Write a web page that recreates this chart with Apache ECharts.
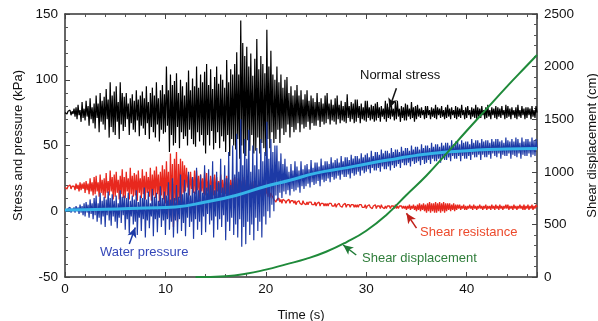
<!DOCTYPE html>
<html>
<head>
<meta charset="utf-8">
<script src="https://cdn.jsdelivr.net/npm/echarts@6/dist/echarts.min.js"></script>
<style>html,body{margin:0;padding:0;background:#fff}#c{width:598px;height:321px}</style>
</head>
<body>
<div id="c"></div>
<script>
// sampling step of the recorded signals (s)
const sampleStep = 0.1;

// Normal stress (kPa), one row per second, 10 samples each
const normalStress = [
75,76,74,76,75,77,73,76,74,78,
72,79,70,81,73,77,68,83,71,78,
69,84,72,80,65,86,70,79,67,82,
63,88,71,82,60,90,68,84,66,87,
62,93,70,85,56,98,64,88,60,91,
58,95,68,83,55,98,66,90,61,87,
64,90,70,82,58,86,67,89,62,84,
60,92,69,85,57,88,65,91,63,86,
58,95,67,83,55,90,64,94,60,88,
56,98,66,86,53,92,62,96,59,89,
60,110,65,92,45,104,58,96,50,99,
52,105,64,90,48,100,60,95,55,88,
57,98,50,107,62,92,55,101,51,95,
49,110,60,94,53,104,58,98,50,106,
44,112,58,96,50,108,61,93,47,102,
52,110,60,97,48,104,57,100,53,94,
45,115,58,98,42,108,55,104,50,112,
47,121,55,104,40,145,50,128,44,118,
42,125,54,110,46,120,58,103,44,116,
46,131,56,108,44,118,52,112,48,105,
42,138,55,110,48,122,60,104,52,100,
55,110,62,98,52,104,63,94,58,100,
60,102,66,90,56,95,64,88,60,92,
62,96,67,88,60,92,66,85,63,89,
64,92,68,84,62,88,67,86,65,83,
65,90,69,83,64,86,68,82,66,88,
67,90,70,82,66,85,69,81,68,86,
66,88,70,81,67,84,69,80,68,83,
67,89,71,80,68,83,70,82,67,85,
68,85,71,80,67,82,70,79,69,84,
68,84,71,79,69,81,70,80,68,82,
69,83,71,79,68,80,72,78,70,84,
68,82,71,79,70,81,72,78,69,83,
70,84,72,78,68,80,71,79,69,82,
69,81,72,78,70,83,71,79,68,80,
70,81,72,78,71,79,73,77,70,80,
71,80,73,77,70,79,72,78,71,81,
70,79,73,78,71,80,72,77,70,79,
71,81,72,78,70,79,73,77,71,80,
70,79,72,78,71,81,73,77,70,79,
71,80,73,77,70,79,72,78,71,81,
70,79,72,78,71,80,73,77,70,79,
71,81,72,77,70,79,73,78,71,80,
70,79,72,78,71,80,73,77,70,81,
71,80,72,78,70,79,73,77,71,79,
70,81,72,77,71,80,73,78,70,79,
71,79,73,78,70,80,72,77,71,80,
75
];

// Water pressure (kPa)
const waterPressure = [
1,2,0,2,1,3,-1,2,0,3,
-1,4,0,3,-2,5,-1,4,-3,6,
-4,7,-1,5,-5,9,-2,6,-6,10,
-3,12,-8,6,-5,14,-10,8,-4,11,
-12,9,-3,15,-7,10,-11,13,-4,8,
-8,12,-13,6,-5,16,-9,11,-3,12,
-14,10,-6,14,-17,8,-4,12,-10,9,
-8,16,-18,7,-5,12,-15,10,-6,18,
-20,9,-7,15,-13,6,-4,17,-19,11,
-6,14,-16,8,-5,19,-12,10,-7,15,
-18,12,-6,22,-14,9,-8,25,-20,10,
-7,20,-17,11,-6,28,-15,13,-9,24,
-19,14,-5,30,-12,12,-8,26,-21,15,
-6,33,-14,16,-8,28,-18,14,-4,35,
-16,18,-2,32,-10,20,-7,38,-20,16,
-4,30,-14,22,-6,40,-12,18,-3,35,
-22,25,-8,45,-15,20,-5,50,-18,28,
-10,59,-20,30,-6,70,-27,35,-12,55,
-25,40,-8,62,-18,30,-10,50,-22,35,
-5,48,-15,32,-8,55,-20,38,-4,45,
-10,68,0,40,-5,55,5,45,0,50,
12,50,8,38,14,44,10,36,15,40,
13,34,16,30,12,36,17,31,15,38,
16,34,18,31,14,38,19,32,17,35,
19,36,21,32,18,39,22,33,20,37,
21,37,23,34,19,40,24,35,22,38,
23,38,25,36,22,41,26,37,24,39,
25,40,27,37,24,42,28,38,26,41,
26,41,28,39,25,43,29,40,27,42,
28,42,30,40,27,44,31,41,29,43,
30,44,32,41,29,46,33,42,31,45,
31,45,33,43,30,47,34,44,32,46,
32,46,34,44,31,48,35,45,33,47,
34,47,36,45,33,49,37,46,35,48,
35,48,37,46,34,50,38,47,36,49,
37,49,38,47,35,51,39,48,36,50,
37,50,39,48,36,52,40,49,38,51,
38,51,40,49,37,52,41,50,39,52,
39,52,41,50,38,54,42,51,40,53,
40,53,42,51,38,54,42,52,40,53,
40,53,42,51,39,55,43,52,41,54,
41,54,43,52,39,55,43,53,41,54,
41,54,43,52,40,55,44,53,42,55,
41,55,44,53,40,54,43,52,42,56,
42,54,44,53,40,55,43,53,42,56,
41,55,44,52,40,56,43,53,42,55,
42,55,44,53,41,56,43,54,42,55,
48
];

// Shear resistance (kPa)
const shearResistance = [
18,19,17,19,18,20,17,19,18,19,
16,21,17,20,15,22,16,21,17,22,
14,23,16,21,13,25,15,22,12,26,
13,27,15,22,11,28,14,24,12,25,
10,29,14,23,12,31,15,26,9,28,
11,30,14,24,9,27,13,32,10,26,
10,30,15,25,9,33,13,27,11,29,
12,28,8,31,14,25,10,32,13,27,
9,30,14,26,11,33,8,28,12,31,
10,34,13,28,7,30,12,35,9,32,
6,38,12,30,-5,44,4,36,-12,40,
8,45,-8,36,10,40,5,38,14,35,
15,33,18,28,12,30,17,26,14,31,
13,31,16,27,10,28,15,25,13,30,
12,29,15,24,10,27,14,26,12,28,
12,26,15,23,11,28,14,24,12,25,
13,27,15,22,10,24,14,25,12,26,
11,25,14,22,13,23,12,26,14,24,
12,24,15,21,10,22,13,23,14,22,
12,20,14,22,11,19,13,21,12,18,
13,18,11,16,10,14,12,11,9,10,
7,9,8,10,7,9,6,9,8,8,
6,8,7,9,6,8,7,8,6,8,
5,7,6,8,6,7,5,8,6,7,
5,7,5,7,6,7,5,6,5,7,
4,6,5,7,4,6,5,6,4,6,
4,6,4,6,5,6,4,5,4,6,
3,5,4,6,4,5,3,5,4,6,
3,5,4,5,3,5,4,5,3,5,
3,5,3,5,4,5,3,4,3,5,
2,4,3,5,3,4,2,4,3,5,
2,4,3,4,2,5,3,4,2,4,
2,4,3,4,2,4,3,4,2,5,
2,4,2,4,3,4,2,4,2,4,
1,4,2,5,1,4,2,5,1,4,
0,5,1,6,0,5,1,6,0,5,
-1,6,0,7,-1,6,0,6,-1,7,
-1,6,0,7,-1,6,0,7,-1,6,
0,6,1,6,0,5,1,6,0,5,
1,5,2,5,1,4,2,5,1,4,
1,4,2,5,2,4,1,5,2,4,
1,4,2,5,2,4,1,4,2,5,
1,4,2,4,1,5,2,4,1,5,
2,4,1,5,2,4,1,4,2,5,
2,5,1,4,2,4,1,5,2,4,
1,4,2,5,2,4,1,5,1,4,
2,5,1,4,2,5,1,4,2,5,
3
];

// Smoothed water pressure trend (kPa)
const trendTime = [0,4,8,11,14,17,20,22.4,25,28,30,33,35,38,41,44,47];
const trendValue = [1,1.5,2.5,3.3,7,12,19,23.6,29,33,36,40,42.5,45,46.5,47.3,47.7];

// Shear displacement (cm), right axis
const dispTime = [13,16,18,20,22,24,26,28,30,32,34,36,38,40,42,44,46,47];
const dispValue = [0,8,30,70,120,172,240,330,440,590,780,965,1175,1390,1600,1810,2010,2110];

// axis ticks
const xTicks = {min: 0, max: 47, interval: 10};
const yLeft = {min: -50, max: 150, interval: 50};
const yRight = {min: 0, max: 2500, interval: 500};

function pairs(vals) {
  return vals.map((v, i) => [+(i * sampleStep).toFixed(1), v]);
}
function zip(a, b) { return a.map((x, i) => [x, b[i]]); }

const FONT = '"Liberation Sans", Arial, sans-serif';
const axisLineStyle = {color: '#333', width: 1.5};
const tickFont = {fontSize: 13.5, color: '#111', fontFamily: FONT};
const nameFont = {fontSize: 13, color: '#111', fontFamily: FONT};

function arrow(x1, y1, x2, y2, color) {
  return [
    {coord: [x1, y1], symbol: 'none', lineStyle: {color: color, width: 1.5, type: 'solid'}},
    {coord: [x2, y2], symbol: 'arrow', symbolSize: [7, 10], itemStyle: {color: color}}
  ];
}
function commonAxis() {
  return {
    axisLine: {show: true, onZero: false, lineStyle: axisLineStyle},
    axisTick: {show: true, inside: true, length: 5, lineStyle: {color: '#444'}},
    minorTick: {show: true, splitNumber: 5, length: 3, lineStyle: {color: '#555'}},
    splitLine: {show: false}
  };
}

const chart = echarts.init(document.getElementById('c'), null, {renderer: 'canvas'});
chart.setOption({
  animation: false,
  backgroundColor: '#fff',
  textStyle: {fontFamily: FONT},
  grid: {left: 65, right: 61, top: 14, bottom: 44, containLabel: false, outerBoundsMode: 'none'},
  xAxis: [Object.assign(commonAxis(), {
    type: 'value', min: xTicks.min, max: xTicks.max, interval: xTicks.interval,
    name: 'Time (s)', nameLocation: 'middle', nameGap: 32, nameTextStyle: nameFont,
    axisLabel: Object.assign({margin: 5, showMaxLabel: false}, tickFont)
  }), Object.assign(commonAxis(), {
    type: 'value', position: 'top', min: xTicks.min, max: xTicks.max, interval: xTicks.interval,
    axisLabel: {show: false}
  })],
  yAxis: [Object.assign(commonAxis(), {
    type: 'value', min: yLeft.min, max: yLeft.max, interval: yLeft.interval,
    name: 'Stress and pressure (kPa)', nameLocation: 'middle', nameGap: 37, nameTextStyle: nameFont,
    axisLabel: Object.assign({margin: 7}, tickFont)
  }), Object.assign(commonAxis(), {
    type: 'value', position: 'right', min: yRight.min, max: yRight.max, interval: yRight.interval,
    name: 'Shear displacement (cm)', nameLocation: 'middle', nameGap: 49, nameRotate: 90, nameTextStyle: nameFont,
    axisLabel: Object.assign({margin: 7, formatter: v => String(v)}, tickFont)
  })],
  series: [{
    name: 'Shear resistance', type: 'line', xAxisIndex: 0, yAxisIndex: 0, showSymbol: false, z: 2,
    data: pairs(shearResistance), lineStyle: {color: '#e8281e', width: 1.3}
  }, {
    name: 'Normal stress', type: 'line', xAxisIndex: 0, yAxisIndex: 0, showSymbol: false, z: 3,
    data: pairs(normalStress), lineStyle: {color: '#000', width: 1.2}
  }, {
    name: 'Water pressure', type: 'line', xAxisIndex: 0, yAxisIndex: 0, showSymbol: false, z: 4,
    data: pairs(waterPressure), lineStyle: {color: '#1d3aa6', width: 1.2}
  }, {
    name: 'Trend', type: 'line', xAxisIndex: 0, yAxisIndex: 0, showSymbol: false, smooth: true, z: 5,
    data: zip(trendTime, trendValue), lineStyle: {color: '#36b3e8', width: 3}
  }, {
    name: 'Shear displacement', type: 'line', xAxisIndex: 0, yAxisIndex: 1, showSymbol: false, smooth: true, z: 6,
    data: zip(dispTime, dispValue), lineStyle: {color: '#1f8a3a', width: 2},
    markLine: {
      silent: true, animation: false, label: {show: false},
      data: [
        arrow(33.0, 1795, 32.3, 1605, '#111'),
        arrow(6.4, 313, 7.0, 470, '#1d3aa6'),
        arrow(35.0, 465, 34.0, 606, '#c0201a'),
        arrow(29.0, 209, 27.7, 304, '#1f7a36')
      ]
    }
  }],
  graphic: [
    {type: 'text', left: 360, top: 69, z: 100, style: {text: 'Normal stress', fill: '#111', font: '13px ' + FONT}},
    {type: 'text', left: 100, top: 246, z: 100, style: {text: 'Water pressure', fill: '#3447b8', font: '13px ' + FONT}},
    {type: 'text', left: 420, top: 226, z: 100, style: {text: 'Shear resistance', fill: '#ec4a2c', font: '13px ' + FONT}},
    {type: 'text', left: 362, top: 252, z: 100, style: {text: 'Shear displacement', fill: '#2f7d3a', font: '13px ' + FONT}}
  ]
});
</script>
</body>
</html>
